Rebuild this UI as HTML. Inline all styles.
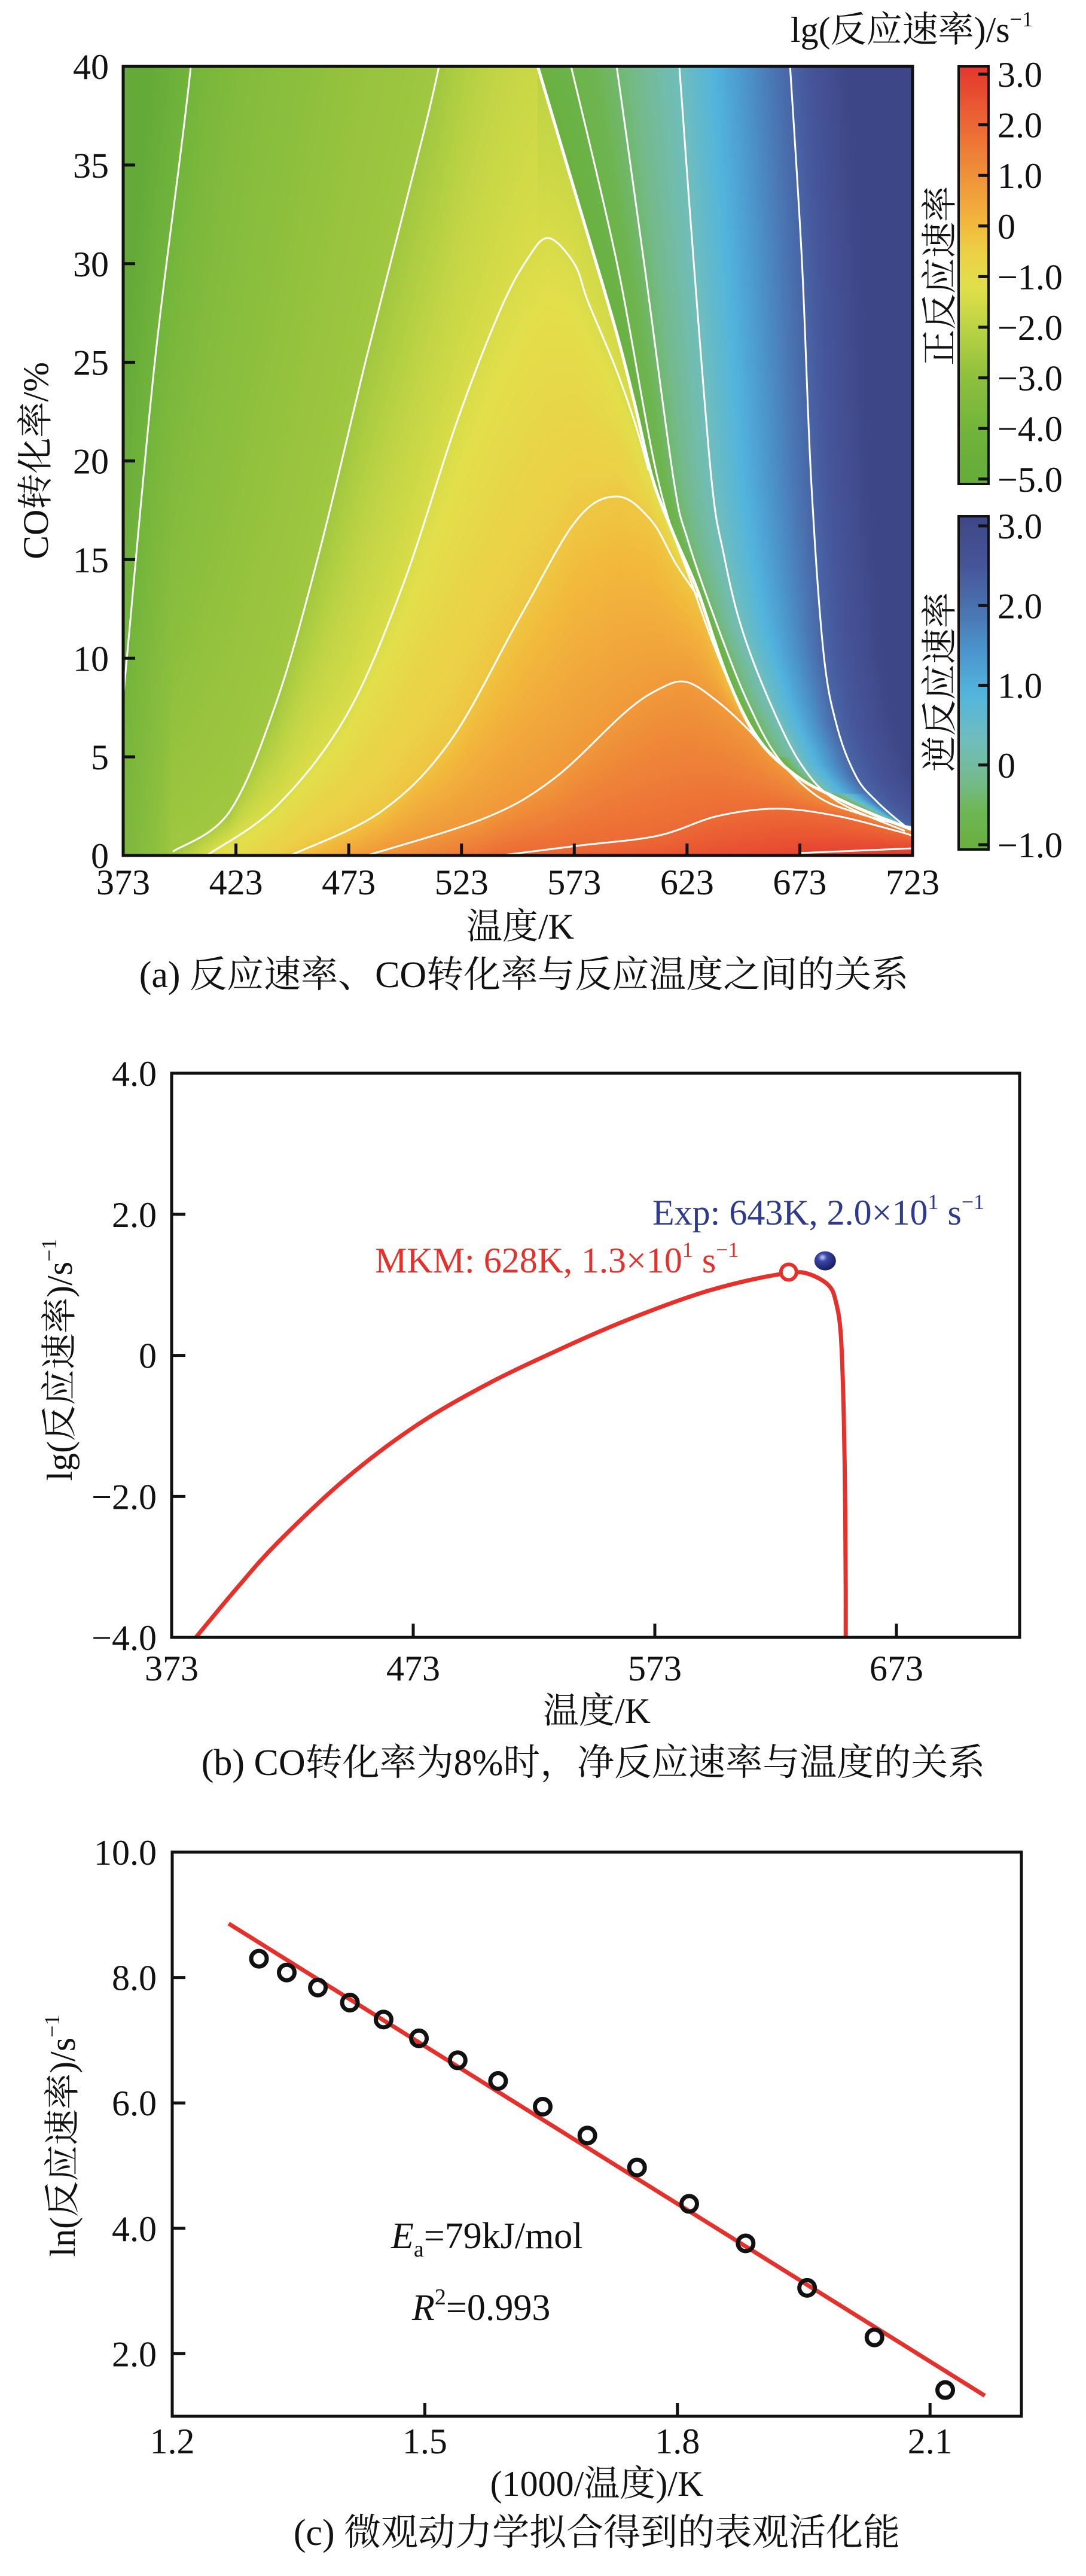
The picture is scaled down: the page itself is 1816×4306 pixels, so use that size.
<!DOCTYPE html>
<html><head><meta charset="utf-8">
<style>
body{margin:0;background:#fff;width:1816px;height:4306px;position:relative;overflow:hidden}
#hm{position:absolute;left:206px;top:111px;width:1320px;height:1319px}
#s{position:absolute;left:0;top:0}
text{font-family:"Liberation Serif","Noto Serif CJK SC",serif;fill:#111}
</style></head>
<body>
<canvas id="hm" width="1320" height="1319"></canvas>
<svg id="s" xmlns="http://www.w3.org/2000/svg" width="1816" height="4306">
<defs>
<clipPath id="clipA"><rect x="206" y="111" width="1320" height="1319"/></clipPath>
<clipPath id="clipB"><rect x="287" y="1794" width="1418" height="943"/></clipPath>
<linearGradient id="gFwd" x1="0" y1="0" x2="0" y2="1"></linearGradient>
<linearGradient id="gRev" x1="0" y1="0" x2="0" y2="1"></linearGradient>
<radialGradient id="gSphere" cx="0.38" cy="0.32" r="0.7">
<stop offset="0" stop-color="#c8d0f5"/><stop offset="0.3" stop-color="#3a48a8"/><stop offset="1" stop-color="#161c5e"/>
</radialGradient>
</defs>

<g id="chartA">
<g id="aLines" clip-path="url(#clipA)"></g>
<rect x="206" y="111" width="1320" height="1319" fill="none" stroke="#111" stroke-width="5"/>
<g id="aTicks"></g>
<rect x="1603" y="111" width="50" height="698" fill="url(#gFwd)" stroke="#111" stroke-width="4"/>
<rect x="1603" y="863" width="50" height="557" fill="url(#gRev)" stroke="#111" stroke-width="4"/>
<g id="cbTicks"></g>
<text x="1322" y="70" font-size="60">lg(反应速率)/s<tspan font-size="36" dy="-26">−1</tspan></text>
<text transform="translate(1592,461) rotate(-90)" text-anchor="middle" font-size="60">正反应速率</text>
<text transform="translate(1592,1140) rotate(-90)" text-anchor="middle" font-size="60">逆反应速率</text>
<text x="870" y="1569" text-anchor="middle" font-size="60">温度/K</text>
<text transform="translate(80,770) rotate(-90)" text-anchor="middle" font-size="60">CO转化率/%</text>
<text x="876" y="1650" text-anchor="middle" font-size="62">(a) 反应速率、CO转化率与反应温度之间的关系</text>
</g>

<g id="chartB">
<g id="bMarks" clip-path="url(#clipB)"></g>
<rect x="287" y="1794" width="1418" height="943" fill="none" stroke="#111" stroke-width="5"/>
<g id="bTicks"></g>
<text x="1091" y="2047" font-size="60" style="fill:#2e3a8c">Exp: 643K, 2.0×10<tspan font-size="36" dy="-26">1</tspan><tspan dy="26"> s</tspan><tspan font-size="36" dy="-26">−1</tspan></text>
<text x="627" y="2127" font-size="60" style="fill:#e5312b">MKM: 628K, 1.3×10<tspan font-size="36" dy="-26">1</tspan><tspan dy="26"> s</tspan><tspan font-size="36" dy="-26">−1</tspan></text>
<text x="998" y="2880" text-anchor="middle" font-size="60">温度/K</text>
<text transform="translate(120,2273) rotate(-90)" text-anchor="middle" font-size="60">lg(反应速率)/s<tspan font-size="36" dy="-26">−1</tspan></text>
<text x="992" y="2967" text-anchor="middle" font-size="62">(b) CO转化率为8%时，净反应速率与温度的关系</text>
</g>

<g id="chartC">
<g id="cMarks"></g>
<rect x="288" y="3096" width="1420" height="943" fill="none" stroke="#111" stroke-width="5"/>
<g id="cTicks"></g>
<text x="654" y="3758" font-size="62"><tspan font-style="italic">E</tspan><tspan font-size="38" dy="14">a</tspan><tspan dy="-14">=79kJ/mol</tspan></text>
<text x="689" y="3878" font-size="62"><tspan font-style="italic">R</tspan><tspan font-size="38" dy="-26">2</tspan><tspan dy="26">=0.993</tspan></text>
<text x="998" y="4172" text-anchor="middle" font-size="60">(1000/温度)/K</text>
<text transform="translate(125,3570) rotate(-90)" text-anchor="middle" font-size="60">ln(反应速率)/s<tspan font-size="36" dy="-26">−1</tspan></text>
<text x="998" y="4254" text-anchor="middle" font-size="62">(c) 微观动力学拟合得到的表观活化能</text>
</g>
</svg>

<script>
// ===== Chart A data =====
const eqT = [556.8,573.4,591,600,607.7,617,627.8,641,654.4,671.9,689.6,707,723];
const eqX = [40,33.6,26.8,22.8,19.1,16.3,13.4,9.0,5.9,4.0,2.9,2.0,1.3];
const c1T = [366,373,387,403,415];            const c1X = [0,8,25,40,55];
const c2T = [380,395,420,441,460,481,497,513,525]; const c2X = [-3,0.2,2.2,7.8,15.4,25.3,32.5,40,48];
const c3T = [395,410,441,472,497,521,540,552,561.5,573,579,591,600,606];
const c3X = [-3,0,2.5,7.1,13.7,22,27.6,30.2,31.3,30,28.1,24.8,21.9,19.5];
const c4T = [430,447,487,518,549,574,592,607,618,628]; const c4X = [-3,0,2.2,5.8,12.1,17,18.2,17,14.8,13.1];
const c5T = [465,481,533.5,564,595,610,622.5,636.6,650,660,668]; const c5X = [-3,0,1.9,3.9,7.2,8.4,8.8,7.8,6.4,5.1,4.3];
const c6T = [520,540,575,610,636.6,663,689.6,716,723]; const c6X = [-3,0,0.5,1.0,2.0,2.37,2.0,1.24,1.0];
const c7T = [650,672.7,723];                  const c7X = [-3,0.12,0.36];
const contourLevels = [-4,-2.6,-1.4,-0.3,0.8,1.9,2.8];
const contourMerge = [false,false,true,true,true,false,false];
const baseT = [340,366,395,410,447,481,540,672,723,760];
const baseV = [-4.6,-4,-2.6,-1.4,-0.3,0.8,1.9,2.8,3.1,3.2];
const r1T = [571.6,592,610,625,640,655,672,690,708,723]; const r1X = [40,30,19.1,13.8,9.2,5.9,4.0,2.9,2.0,1.35];
const r2T = [591.8,604,617,623.3,636.6,649.8,663,680.8,700,723]; const r2X = [40,30,19.1,16,11.6,7.8,5,3,2.1,1.4];
const r3T = [619.6,626,633.8,639.2,647,659.6,673.7,689.6,719.6]; const r3X = [40,30,19.1,15.3,11.6,7.8,4.6,2.75,1.24];
const r4T = [668.7,674,678,683.5,689.6,698,707,719.6,723]; const r4X = [40,30,19.1,10.3,6.5,4.0,2.75,1.5,1.3];
const revLevels = [-1,-0.8,-0.4,0.3,2.2];
const fwdStopV = [-5.2,-4,-3,-2,-1.2,-0.5,0,0.8,1.6,2.3,3.2];
const fwdStopC = ['#63aa38','#72b43c','#8dbf3d','#bcd344','#e2df4a','#ecd046','#f2b93c','#f0993a','#ed7837','#ea5a33','#e3342d'];
const revStopV = [-1.1,-0.6,-0.2,0.3,0.9,1.4,2.0,2.5,3.2];
const revStopC = ['#68b03c','#6eb552','#74ba8c','#70bdbc','#52b4dd','#4c96cd','#4a70ae','#465599','#3c4585'];
const aXTicks = [373,423,473,523,573,623,673,723];
const aYTicks = [0,5,10,15,20,25,30,35,40];
const fwdBarTicks = [3,2,1,0,-1,-2,-3,-4,-5];
const revBarTicks = [3,2,1,0,-1];

// ===== Chart B data =====
const bT = [383,400,417,445,474,503,532,560,589,610,629,637,645,648,650,651.2,651.8,652,652];
const bV = [-4,-3.3,-2.65,-1.75,-1.0,-0.42,0.06,0.48,0.85,1.05,1.17,1.15,0.99,0.75,0.28,-0.84,-2.2,-3.3,-4.2];
const mkmPeakT = [628.4]; const mkmPeakV = [1.18];
const expT = [643.5]; const expV = [1.34];
const bXTicks = [373,473,573,673];
const bYTicks = [4,2,0,-2,-4];
const bYLabels = ['4.0','2.0','0','−2.0','−4.0'];

// ===== Chart C data =====
const cInvT = [1.303,1.336,1.373,1.411,1.451,1.493,1.539,1.587,1.640,1.693,1.752,1.814,1.881,1.954,2.034,2.118];
const cLnR = [8.30,8.08,7.84,7.60,7.33,7.03,6.68,6.35,5.94,5.48,4.97,4.39,3.76,3.05,2.26,1.42];
const fitX = [1.267,2.165];
const fitY = [8.86,1.33];
const cXTicks = [1.2,1.5,1.8,2.1];
const cXLabels = ['1.2','1.5','1.8','2.1'];
const cYTicks = [10,8,6,4,2];
const cYLabels = ['10.0','8.0','6.0','4.0','2.0'];

const NS = 'http://www.w3.org/2000/svg';
function mk(tag, parent){ const e=document.createElementNS(NS,tag); parent.appendChild(e); return e; }
function lerpArr(xs,ys,x){
  const n=xs.length; let i=0;
  if(x<=xs[0]) i=0; else if(x>=xs[n-1]) i=n-2; else { while(xs[i+1]<x) i++; }
  const t=(x-xs[i])/(xs[i+1]-xs[i]); return ys[i]+t*(ys[i+1]-ys[i]);
}
function hex(c){ return [parseInt(c.slice(1,3),16),parseInt(c.slice(3,5),16),parseInt(c.slice(5,7),16)]; }
function cmap(vs,cs,v){
  if(v<=vs[0]) return hex(cs[0]);
  if(v>=vs[vs.length-1]) return hex(cs[cs.length-1]);
  let i=0; while(vs[i+1]<v) i++;
  const t=(v-vs[i])/(vs[i+1]-vs[i]); const a=hex(cs[i]), b=hex(cs[i+1]);
  return [a[0]+t*(b[0]-a[0]),a[1]+t*(b[1]-a[1]),a[2]+t*(b[2]-a[2])];
}
function smoothPath(pts){
  let d='M'+pts[0][0].toFixed(1)+','+pts[0][1].toFixed(1);
  for(let i=0;i<pts.length-1;i++){
    const p0=pts[Math.max(0,i-1)],p1=pts[i],p2=pts[i+1],p3=pts[Math.min(pts.length-1,i+2)];
    const c1x=p1[0]+(p2[0]-p0[0])/6,c1y=p1[1]+(p2[1]-p0[1])/6,c2x=p2[0]-(p3[0]-p1[0])/6,c2y=p2[1]-(p3[1]-p1[1])/6;
    d+=' C'+c1x.toFixed(1)+','+c1y.toFixed(1)+' '+c2x.toFixed(1)+','+c2y.toFixed(1)+' '+p2[0].toFixed(1)+','+p2[1].toFixed(1);
  }
  return d;
}

const ax = T => 206+(T-373)*1320/350;
const ay = X => 1430-X*1319/40;
const contT=[c1T,c2T,c3T,c4T,c5T,c6T,c7T], contX=[c1X,c2X,c3X,c4X,c5X,c6X,c7X];
const revT=[r1T,r2T,r3T,r4T], revX=[r1X,r2X,r3X,r4X];
(function(){
  const cv=document.getElementById('hm'), ctx=cv.getContext('2d');
  const W=1320,H=1319, img=ctx.createImageData(W,H), d=img.data;
  const eqXr=eqX.slice().reverse(), eqTr=eqT.slice().reverse();
  const revXr=revX.map(a=>a.slice().reverse()), revTr=revT.map(a=>a.slice().reverse());
  const rowKnots=[];
  for(let j=0;j<H;j++){
    const X=40*(1-(j+0.5)/H);
    const ks=[[lerpArr(eqXr,eqTr,X),revLevels[0]]];
    for(let k=0;k<4;k++) ks.push([lerpArr(revXr[k],revTr[k],X),revLevels[k+1]]);
    ks.sort((a,b)=>a[0]-b[0]);
    rowKnots.push(ks);
  }
  for(let i=0;i<W;i++){
    const T=373+(i+0.5)/W*350;
    const Xeq = T<eqT[0] ? 1000 : lerpArr(eqT,eqX,T);
    const ks=[[0,lerpArr(baseT,baseV,T)]];
    for(let k=0;k<7;k++){
      const ts=contT[k], xs=contX[k];
      let xk;
      if(contourMerge[k] && T>ts[ts.length-1]) xk=Xeq; else xk=lerpArr(ts,xs,T);
      if(xk<=0) continue;
      if(xk>=Xeq){ if(contourMerge[k]) xk=Xeq; else continue; }
      ks.push([xk,contourLevels[k]]);
    }
    ks.sort((a,b)=>a[0]-b[0]||b[1]-a[1]);
    for(let j=0;j<H;j++){
      const X=40*(1-(j+0.5)/H);
      let v, col;
      if(X<=Xeq){
        const last=ks[ks.length-1];
        if(X>=last[0]) v=Math.max(-5.2,last[1]-(X-last[0])*0.07);
        else { let m=0; while(ks[m+1][0]<X) m++; const a=ks[m],b=ks[m+1]; const dx=b[0]-a[0]; v=dx>0?a[1]+(X-a[0])/dx*(b[1]-a[1]):b[1]; }
        col=cmap(fwdStopV,fwdStopC,v);
      } else {
        const rk=rowKnots[j];
        if(T<=rk[0][0]) v=rk[0][1];
        else if(T>=rk[rk.length-1][0]) v=Math.min(3.15,rk[rk.length-1][1]+(T-rk[rk.length-1][0])*0.035);
        else { let m=0; while(rk[m+1][0]<T) m++; const a=rk[m],b=rk[m+1]; const dt=b[0]-a[0]; v=dt>0?a[1]+(T-a[0])/dt*(b[1]-a[1]):b[1]; }
        col=cmap(revStopV,revStopC,v);
      }
      const p=(j*W+i)*4; d[p]=col[0]; d[p+1]=col[1]; d[p+2]=col[2]; d[p+3]=255;
    }
  }
  ctx.putImageData(img,0,0);
})();

(function(){
  const g=document.getElementById('aLines');
  for(let k=0;k<7;k++){
    const pts=[];
    contT[k].forEach((t,n)=>{ if(contX[k][n]>=0) pts.push([ax(t),ay(contX[k][n])]); });
    const p=mk('path',g);
    p.setAttribute('d',smoothPath(pts)); p.setAttribute('fill','none'); p.setAttribute('stroke','#fff'); p.setAttribute('stroke-width','3');
    
    
  }
  for(let k=0;k<4;k++){
    const pts=revT[k].map((t,n)=>[ax(t),ay(revX[k][n])]);
    const p=mk('path',g);
    p.setAttribute('d',smoothPath(pts)); p.setAttribute('fill','none'); p.setAttribute('stroke','#fff'); p.setAttribute('stroke-width','3');
    
    
  }
  const bpts=eqT.map((t,n)=>[ax(t),ay(eqX[n])]);
  const b=mk('path',g);
  b.setAttribute('d',smoothPath(bpts)); b.setAttribute('fill','none'); b.setAttribute('stroke','#fff'); b.setAttribute('stroke-width','5');
  
  
})();

(function(){
  const g=document.getElementById('aTicks');
  aXTicks.forEach(t=>{
    const x=ax(t);
    if(t>373&&t<723){ const l=mk('line',g); l.setAttribute('x1',x); l.setAttribute('x2',x); l.setAttribute('y1',1430); l.setAttribute('y2',1410); l.setAttribute('stroke','#111'); l.setAttribute('stroke-width','5');
        }
    const tx=mk('text',g); tx.setAttribute('x',x); tx.setAttribute('y',1495); tx.setAttribute('text-anchor','middle'); tx.setAttribute('font-size','60'); tx.textContent=String(t);
     
  });
  aYTicks.forEach(v=>{
    const y=ay(v);
    if(v>0&&v<40){ const l=mk('line',g); l.setAttribute('x1',206); l.setAttribute('x2',226); l.setAttribute('y1',y); l.setAttribute('y2',y); l.setAttribute('stroke','#111'); l.setAttribute('stroke-width','5');
        }
    const tx=mk('text',g); tx.setAttribute('x',182); tx.setAttribute('y',y+21); tx.setAttribute('text-anchor','end'); tx.setAttribute('font-size','60'); tx.textContent=String(v);
     
  });
  const gf=document.getElementById('gFwd'), gr=document.getElementById('gRev');
  const fTop=3+(124-111)/84.6, fBot=-5-(809-801)/84.6;
  for(let n=0;n<=40;n++){ const v=fTop-(fTop-fBot)*n/40; const c=cmap(fwdStopV,fwdStopC,v); const s=mk('stop',gf); s.setAttribute('offset',n/40); s.setAttribute('stop-color','rgb('+c.map(Math.round).join(',')+')'); }
  const rTop=3+(879-863)/133.25, rBot=-1-(1420-1412)/133.25;
  for(let n=0;n<=40;n++){ const v=rTop-(rTop-rBot)*n/40; const c=cmap(revStopV,revStopC,v); const s=mk('stop',gr); s.setAttribute('offset',n/40); s.setAttribute('stop-color','rgb('+c.map(Math.round).join(',')+')'); }
  const cg=document.getElementById('cbTicks');
  const lab=v=> v===0?'0':(v<0?'−':'')+Math.abs(v).toFixed(1);
  fwdBarTicks.forEach(v=>{
    const y=124+(3-v)*84.6;
    const l=mk('line',cg); l.setAttribute('x1',1653); l.setAttribute('x2',1636); l.setAttribute('y1',y); l.setAttribute('y2',y); l.setAttribute('stroke','#111'); l.setAttribute('stroke-width','5');
     
    const tx=mk('text',cg); tx.setAttribute('x',1668); tx.setAttribute('y',y+21); tx.setAttribute('font-size','60'); tx.textContent=lab(v);
     
  });
  revBarTicks.forEach(v=>{
    const y=879+(3-v)*133.25;
    const l=mk('line',cg); l.setAttribute('x1',1653); l.setAttribute('x2',1636); l.setAttribute('y1',y); l.setAttribute('y2',y); l.setAttribute('stroke','#111'); l.setAttribute('stroke-width','5');
     
    const tx=mk('text',cg); tx.setAttribute('x',1668); tx.setAttribute('y',y+21); tx.setAttribute('font-size','60'); tx.textContent=lab(v);
     
  });
})();

const bx = T => 287+(T-373)*4.04;
const by = v => 1794+(4-v)*117.9;
(function(){
  const g=document.getElementById('bMarks');
  const p=mk('path',g);
  p.setAttribute('d',smoothPath(bT.map((t,n)=>[bx(t),by(bV[n])]))); p.setAttribute('fill','none'); p.setAttribute('stroke','#e5312b'); p.setAttribute('stroke-width','7');
   
  const c=mk('circle',g); c.setAttribute('cx',bx(mkmPeakT[0])); c.setAttribute('cy',by(mkmPeakV[0])); c.setAttribute('r','13'); c.setAttribute('fill','#fff'); c.setAttribute('stroke','#e5312b'); c.setAttribute('stroke-width','6');
   
  const e=mk('ellipse',g); e.setAttribute('cx',bx(expT[0])); e.setAttribute('cy',by(expV[0])); e.setAttribute('rx','18'); e.setAttribute('ry','16'); e.setAttribute('fill','url(#gSphere)');
   
  const t=document.getElementById('bTicks');
  bXTicks.forEach(v=>{
    const x=bx(v);
    if(v>373){ const l=mk('line',t); l.setAttribute('x1',x); l.setAttribute('x2',x); l.setAttribute('y1',2737); l.setAttribute('y2',2714); l.setAttribute('stroke','#111'); l.setAttribute('stroke-width','5');
        }
    const tx=mk('text',t); tx.setAttribute('x',x); tx.setAttribute('y',2809); tx.setAttribute('text-anchor','middle'); tx.setAttribute('font-size','60'); tx.textContent=String(v);
     
  });
  bYTicks.forEach((v,n)=>{
    const y=by(v);
    if(v<4&&v>-4){ const l=mk('line',t); l.setAttribute('x1',287); l.setAttribute('x2',310); l.setAttribute('y1',y); l.setAttribute('y2',y); l.setAttribute('stroke','#111'); l.setAttribute('stroke-width','5');
        }
    const tx=mk('text',t); tx.setAttribute('x',262); tx.setAttribute('y',y+21); tx.setAttribute('text-anchor','end'); tx.setAttribute('font-size','60'); tx.textContent=bYLabels[n];
     
  });
})();

const cxs = x => 288+(x-1.2)*1408;
const cys = y => 3096+(10-y)*104.8;
(function(){
  const g=document.getElementById('cMarks');
  const l=mk('line',g); l.setAttribute('x1',cxs(fitX[0])); l.setAttribute('y1',cys(fitY[0])); l.setAttribute('x2',cxs(fitX[1])); l.setAttribute('y2',cys(fitY[1])); l.setAttribute('stroke','#e5312b'); l.setAttribute('stroke-width','7');
   
  cInvT.forEach((x,n)=>{
    const c=mk('circle',g); c.setAttribute('cx',cxs(x)); c.setAttribute('cy',cys(cLnR[n])); c.setAttribute('r','13'); c.setAttribute('fill','none'); c.setAttribute('stroke','#111'); c.setAttribute('stroke-width','7');
     
  });
  const t=document.getElementById('cTicks');
  cXTicks.forEach((v,n)=>{
    const x=cxs(v);
    if(v>1.2){ const k=mk('line',t); k.setAttribute('x1',x); k.setAttribute('x2',x); k.setAttribute('y1',4039); k.setAttribute('y2',4017); k.setAttribute('stroke','#111'); k.setAttribute('stroke-width','5');
        }
    const tx=mk('text',t); tx.setAttribute('x',x); tx.setAttribute('y',4101); tx.setAttribute('text-anchor','middle'); tx.setAttribute('font-size','60'); tx.textContent=cXLabels[n];
     
  });
  cYTicks.forEach((v,n)=>{
    const y=cys(v);
    if(v<10){ const k=mk('line',t); k.setAttribute('x1',288); k.setAttribute('x2',310); k.setAttribute('y1',y); k.setAttribute('y2',y); k.setAttribute('stroke','#111'); k.setAttribute('stroke-width','5');
        }
    const tx=mk('text',t); tx.setAttribute('x',262); tx.setAttribute('y',y+21); tx.setAttribute('text-anchor','end'); tx.setAttribute('font-size','60'); tx.textContent=cYLabels[n];
     
  });
})();
</script>
</body></html>
